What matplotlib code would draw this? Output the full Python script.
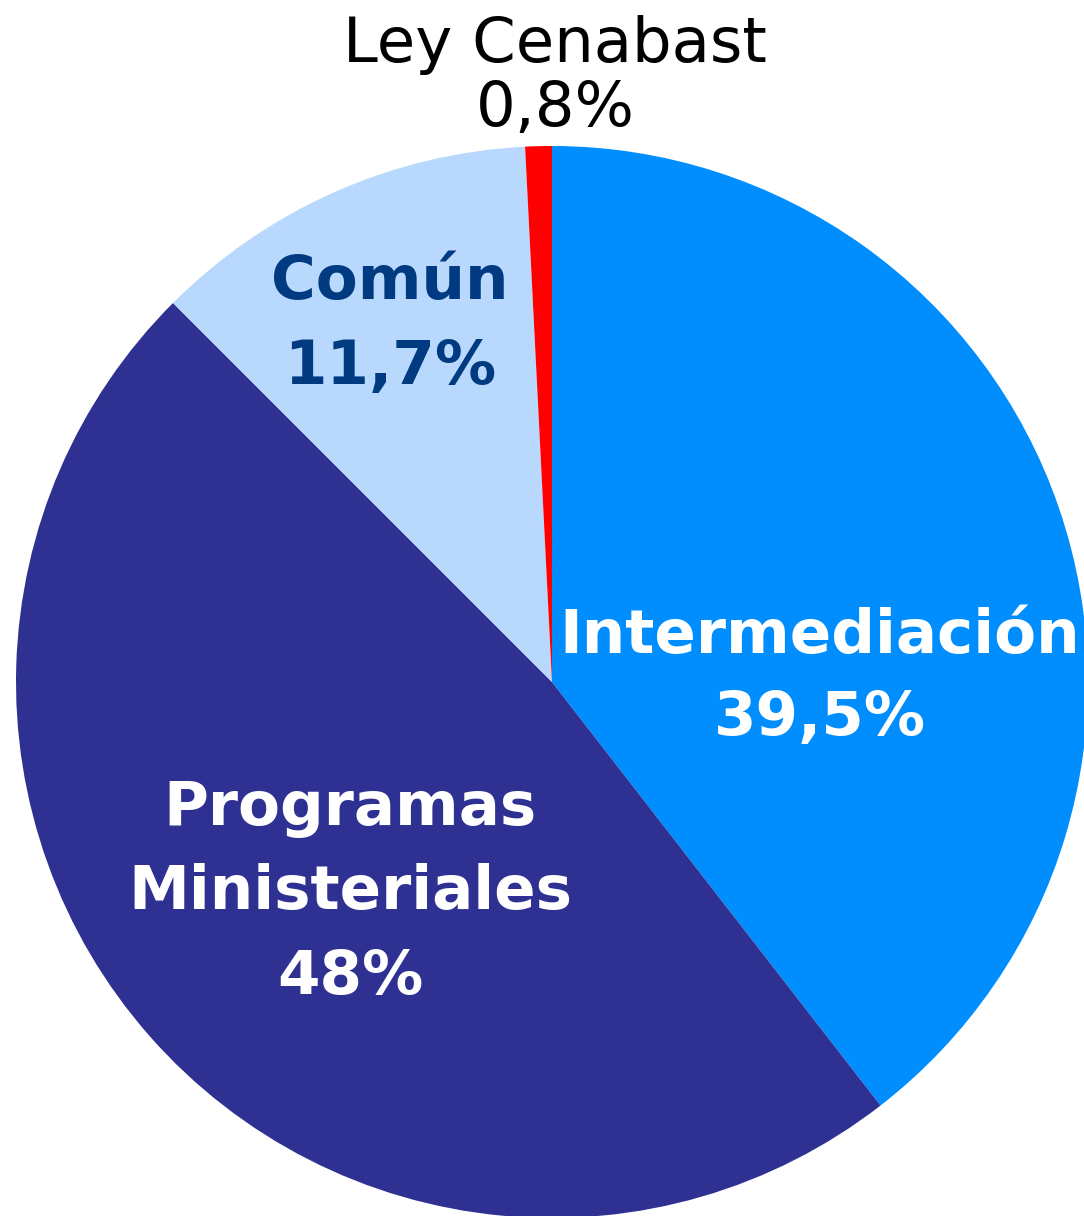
import matplotlib
matplotlib.use("Agg")
import matplotlib.pyplot as plt

categories = ["Intermediación", "Programas\nMinisteriales", "Común", "Ley Cenabast"]
values = [39.5, 48.0, 11.7, 0.8]
value_labels = ["39,5%", "48%", "11,7%", "0,8%"]
colors = ["#008EFF", "#2E3192", "#B8D8FE", "#FF0000"]

W, H = 1084, 1216
cx, cy, R = 552, 682, 536

fig = plt.figure(figsize=(W / 100, H / 100), dpi=100)
ax = fig.add_axes([0, 0, 1, 1])
ax.pie(values, colors=colors, startangle=90, counterclock=False, radius=1,
       wedgeprops=dict(linewidth=0))
ax.set_xlim(-cx / R, (W - cx) / R)
ax.set_ylim(-(H - cy) / R, cy / R)
ax.set_aspect("equal")
ax.axis("off")

def d(px, py):
    return (px - cx) / R, (cy - py) / R

font = "DejaVu Sans"
# label positions in pixels (centers)
pos = [(820, 678), (350, 893), (390, 325), (555, 77)]
tcolors = ["white", "white", "#003A80", "black"]
weights = ["bold", "bold", "bold", "normal"]
sizes = [44, 44, 44, 45]
spacing = [1.5, 1.55, 1.55, 1.07]
for cat, vl, p, tc, w, s, ls in zip(categories, value_labels, pos, tcolors,
                                    weights, sizes, spacing):
    x, y = d(*p)
    ax.text(x, y, f"{cat}\n{vl}", ha="center", va="center", color=tc,
            fontsize=s, fontweight=w, family=font, linespacing=ls,
            clip_on=False)

fig.savefig("out.png", dpi=100)
